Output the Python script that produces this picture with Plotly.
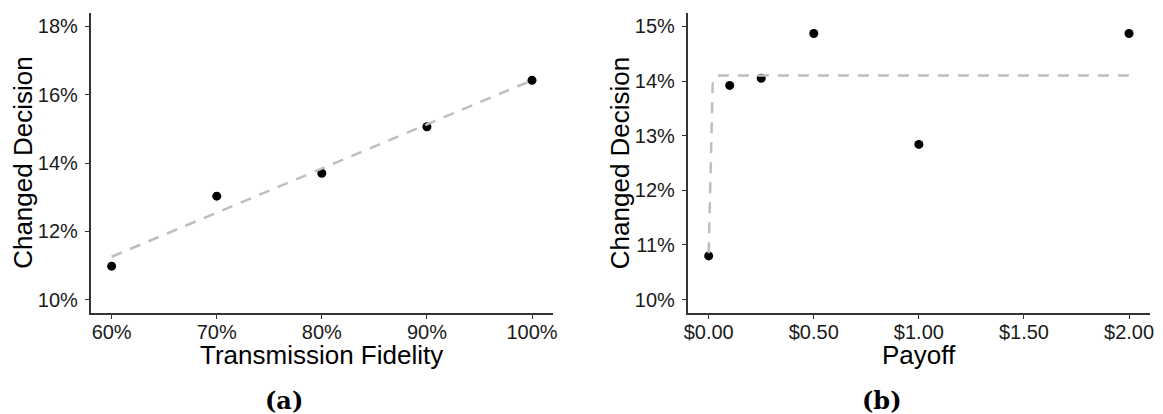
import numpy as np
import plotly.graph_objects as go

# ---- data ----
fidelity = [60, 70, 80, 90, 100]                      # Transmission Fidelity (%)
changed_a = [10.98, 13.03, 13.70, 15.06, 16.42]       # Changed Decision (%)

payoff = [0.00, 0.10, 0.25, 0.50, 1.00, 2.00]          # Payoff ($)
changed_b = [10.80, 13.92, 14.05, 14.87, 12.84, 14.87] # Changed Decision (%)

# fitted saturating curve shown in panel (b)
fit_b_x = [0.0, 0.010, 0.019, 0.030, 0.050, 2.00]
fit_b_y = [10.85, 12.60, 13.95, 14.08, 14.10, 14.10]

ticks_a_x = [60, 70, 80, 90, 100]
ticks_a_y = [10, 12, 14, 16, 18]
ticks_b_x = [0.0, 0.5, 1.0, 1.5, 2.0]
ticks_b_y = [10, 11, 12, 13, 14, 15]

# linear fit for panel (a)
slope, intercept = np.polyfit(fidelity, changed_a, 1)
fit_a_x = [fidelity[0], fidelity[-1]]
fit_a_y = [intercept + slope * v for v in fit_a_x]

W, H = 1163, 414
FONT = "Liberation Sans, Arial, sans-serif"
LINE_COL = "#BEBEBE"
AX_COL = "#333333"

fig = go.Figure()

fig.add_trace(go.Scatter(x=fidelity, y=changed_a, mode="markers",
                         marker=dict(color="black", size=9), xaxis="x", yaxis="y",
                         showlegend=False))
fig.add_trace(go.Scatter(x=fit_a_x, y=fit_a_y, mode="lines",
                         line=dict(color=LINE_COL, width=2.5, dash="11px,9px"),
                         xaxis="x", yaxis="y", showlegend=False))

fig.add_trace(go.Scatter(x=payoff, y=changed_b, mode="markers",
                         marker=dict(color="black", size=9), xaxis="x2", yaxis="y2",
                         showlegend=False))
fig.add_trace(go.Scatter(x=fit_b_x, y=fit_b_y, mode="lines",
                         line=dict(color=LINE_COL, width=2.5, dash="11px,9px"),
                         xaxis="x2", yaxis="y2", showlegend=False))

def px_x(p):
    return p / W

def px_y(p):
    return 1 - p / H

left_dom = [px_x(87.3), px_x(553.3)]
right_dom = [px_x(689), px_x(1155)]
y_dom = [px_y(313.3), px_y(12.7)]

axis_common = dict(showline=True, linecolor=AX_COL, linewidth=1.6,
                   ticks="outside", ticklen=4, tickwidth=1.1, tickcolor=AX_COL,
                   showgrid=False, zeroline=False,
                   tickfont=dict(family=FONT, size=20, color="#1a1a1a"))

fig.update_layout(
    width=W, height=H,
    margin=dict(l=0, r=0, t=0, b=0),
    plot_bgcolor="white", paper_bgcolor="white",
    xaxis=dict(domain=left_dom, range=[58, 102], tickvals=ticks_a_x,
               ticktext=[f"{v}%" for v in ticks_a_x], ticklabelstandoff=-4,
               anchor="y", **axis_common),
    yaxis=dict(domain=y_dom, range=[9.6, 18.4], tickvals=ticks_a_y,
               ticktext=[f"{v}%" for v in ticks_a_y], ticklabelstandoff=3,
               anchor="x", **axis_common),
    xaxis2=dict(domain=right_dom, range=[-0.1, 2.1], tickvals=ticks_b_x,
                ticktext=[f"${v:.2f}" for v in ticks_b_x], ticklabelstandoff=-4,
                anchor="y2", **axis_common),
    yaxis2=dict(domain=y_dom, range=[9.75, 15.25], tickvals=ticks_b_y,
                ticktext=[f"{v}%" for v in ticks_b_y], ticklabelstandoff=3,
                anchor="x2", **axis_common),
)

title_font = dict(family=FONT, size=26, color="black")
label_font = dict(family="DejaVu Serif, Liberation Serif, serif", size=24, color="black")

annotations = [
    dict(text="Changed Decision", x=px_x(19), y=(y_dom[0] + y_dom[1]) / 2,
         textangle=-90, font=title_font),
    dict(text="Transmission Fidelity", x=(left_dom[0] + left_dom[1]) / 2, y=px_y(355),
         font=title_font),
    dict(text="<b>(a)</b>", x=px_x(282), y=px_y(400), font=label_font),
    dict(text="Changed Decision", x=px_x(621), y=(y_dom[0] + y_dom[1]) / 2,
         textangle=-90, font=title_font),
    dict(text="Payoff", x=(right_dom[0] + right_dom[1]) / 2, y=px_y(355),
         font=title_font),
    dict(text="<b>(b)</b>", x=px_x(885), y=px_y(400), font=label_font),
]
for a in annotations:
    a.update(xref="paper", yref="paper", showarrow=False, xanchor="center",
             yanchor="middle", borderpad=0)
fig.update_layout(annotations=annotations)

fig.write_html("out.html", config={"displayModeBar": False},
               post_script="document.body.style.margin='0';document.body.style.overflow='hidden';")
